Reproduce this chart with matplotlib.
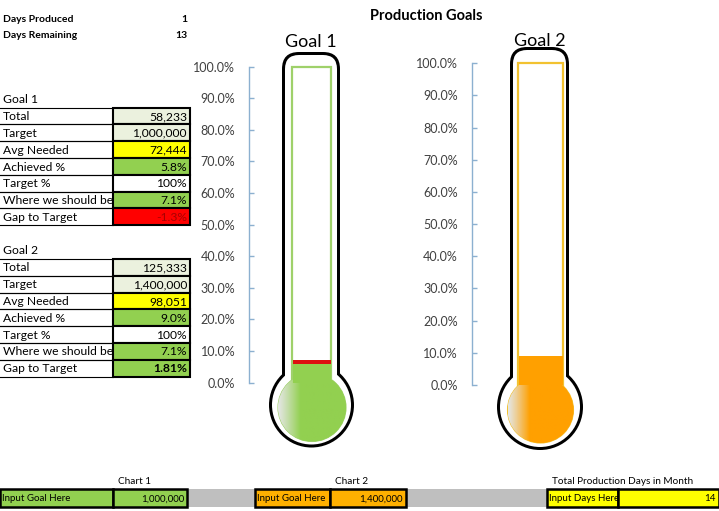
import numpy as np
import matplotlib
matplotlib.use("Agg")
import matplotlib.pyplot as plt
from matplotlib.patches import Rectangle, Circle, FancyBboxPatch
from matplotlib.ticker import PercentFormatter
from matplotlib.colors import to_rgb

plt.rcParams['font.family'] = ['Lato', 'DejaVu Sans']

# ---- data ----
days_labels = ["Days Produced", "Days Remaining"]
days_values = [1, 13]

row_labels = ["Total", "Target", "Avg Needed", "Achieved %", "Target %",
              "Where we should be", "Gap to Target"]
goal1_values = ["58,233", "1,000,000", "72,444", "5.8%", "100%", "7.1%", "-1.3%"]
goal2_values = ["125,333", "1,400,000", "98,051", "9.0%", "100%", "7.1%", "1.81%"]

goal_names = ["Goal 1", "Goal 2"]
achieved = [0.058, 0.090]
gap = [-0.013, 0.0181]
goal_targets = [1000000, 1400000]
total_days = 14
scale_ticks = np.arange(0, 1.001, 0.1)

# ---- styling ----
GREEN = "#92d050"
LIGHT = "#ebf1de"
YELLOW = "#ffff00"
ORANGE = "#ffa000"
RED = "#ff0000"
cell_colors = [LIGHT, LIGHT, YELLOW, GREEN, "white", GREEN, None]

W, H = 719, 511
fig = plt.figure(figsize=(W / 100, H / 100), dpi=100)
bg = fig.add_axes([0, 0, 1, 1])
bg.set_xlim(0, W)
bg.set_ylim(H, 0)
bg.axis('off')

# ---- top left ----
for i, (lab, v) in enumerate(zip(days_labels, days_values)):
    y = 19 + i * 16.5
    bg.text(3, y, lab, fontsize=7.5, fontweight='bold', va='center')
    bg.text(187, y, str(v), fontsize=7.5, fontweight='bold', va='center', ha='right')

# ---- tables ----
RH = 16.8
FS = 8.7
def draw_table(top, header, values, g):
    bg.text(3, top - 8, header, fontsize=FS, va='center')
    for i, (lab, val) in enumerate(zip(row_labels, values)):
        y0 = top + i * RH
        bg.plot([0, 113], [y0, y0], color='black', lw=0.8)
        bg.plot([0, 113], [y0 + RH, y0 + RH], color='black', lw=0.8)
        fc = cell_colors[i]
        tcol = 'black'
        weight = 'normal'
        if fc is None:
            fc = RED if g < 0 else GREEN
            tcol = '#a80000' if g < 0 else 'black'
            weight = 'normal' if g < 0 else 'bold'
        bg.add_patch(Rectangle((113, y0), 77, RH, fc=fc, ec='black', lw=1.5))
        t = bg.text(3, y0 + RH / 2 + 0.5, lab, fontsize=FS, va='center')
        t.set_clip_path(Rectangle((0, y0), 112, RH, transform=bg.transData))
        bg.text(187, y0 + RH / 2 + 0.5, val, fontsize=FS, va='center', ha='right',
                color=tcol, fontweight=weight)

draw_table(107.7, "Goal 1", goal1_values, gap[0])
draw_table(259.0, "Goal 2", goal2_values, gap[1])

# ---- title ----
bg.text(426, 16, "Production Goals", fontsize=10.5, fontweight='bold', ha='center', va='center')

# ---- thermometers ----
def hgrad(c0, c1, n=64, edge=0.38, p=1.4):
    t = np.linspace(0, 1, n)
    m = np.clip(t / edge, 0, 1) ** p
    a, b = np.array(to_rgb(c0)), np.array(to_rgb(c1))
    return (a[None, :] * (1 - m[:, None]) + b[None, :] * m[:, None])[None, :, :]

therms = [
    dict(spine=249.0, y100=66.7, y0=382.7, tx=292.0, tw=39.0, ocx=311.0, ohw=29.0, otop=52.0,
         bc=(311.5, 405.0), br=42.5, ic=(312.0, 407.5), ir=34.0,
         fill=GREEN, frame="#9fd16a", title_y=42.0),
    dict(spine=471.7, y100=63.3, y0=385.0, tx=518.0, tw=45.0, ocx=539.5, ohw=29.5, otop=47.0,
         bc=(540.0, 407.0), br=43.0, ic=(540.5, 410.0), ir=33.0,
         fill=ORANGE, frame="#f2c230", title_y=41.0),
]

for k, th in enumerate(therms):
    cx = th['ocx']
    # body outline: black then white inset
    for inset, col in [(0, 'black'), (3, 'white')]:
        bg.add_patch(FancyBboxPatch((cx - th['ohw'] + inset, th['otop'] + inset),
                                    2 * (th['ohw'] - inset), th['bc'][1] - th['otop'] - inset,
                                    boxstyle="round,pad=0,rounding_size=%g" % (17 - inset),
                                    fc=col, ec='none', zorder=1))
        bg.add_patch(Circle(th['bc'], th['br'] - inset, fc=col, ec='none', zorder=1))
    # tube interior with faint shading
    tube = Rectangle((th['tx'], th['y100']), th['tw'], th['y0'] - th['y100'] + 2,
                     fc='white', ec=th['frame'], lw=1.6, zorder=2.2)
    bg.add_patch(tube)
    side = hgrad("#ecebf1", "white", 32, 0.45, 1.0)
    shade = np.concatenate([side, side[:, ::-1, :]], axis=1)
    bg.imshow(shade, extent=(th['tx'] + 0.8, th['tx'] + th['tw'] - 0.8, th['y0'] + 2, th['y100'] + 0.8),
              aspect='auto', zorder=2.1, interpolation='bilinear')
    # bulb
    bulb = Circle(th['ic'], th['ir'], fc=th['fill'], ec=th['frame'], lw=0.8, zorder=3)
    bg.add_patch(bulb)
    gi = bg.imshow(hgrad("#e4e6e2", th['fill'], 80, 0.33, 1.1),
                   extent=(th['ic'][0] - th['ir'], th['ic'][0] + th['ir'],
                           th['ic'][1] + th['ir'], th['ic'][1] - th['ir']),
                   aspect='auto', zorder=3.1, interpolation='bilinear')
    gi.set_clip_path(bulb)
    bg.text(cx, th['title_y'], goal_names[k], fontsize=13, ha='center', va='center')

    # scale axis + fill bar
    ax = fig.add_axes([th['spine'] / W, (H - th['y0']) / H,
                       (th['tx'] + th['tw'] + 2 - th['spine']) / W, (th['y0'] - th['y100']) / H])
    ax.set_xlim(th['spine'], th['tx'] + th['tw'] + 2)
    ax.set_ylim(0, 1)
    ax.patch.set_alpha(0)
    for s in ['top', 'right', 'bottom']:
        ax.spines[s].set_visible(False)
    ax.spines['left'].set_color('#8cb0d0')
    ax.spines['left'].set_linewidth(1.0)
    ax.set_xticks([])
    ax.set_yticks(scale_ticks)
    ax.yaxis.set_major_formatter(PercentFormatter(1.0, decimals=1))
    ax.tick_params(axis='y', direction='in', length=3.5, width=1.0, color='#8cb0d0',
                   labelsize=9, labelcolor='#404040', pad=10)
    bx = th['tx'] + th['tw'] / 2
    ax.bar(bx, achieved[k], width=th['tw'] - 1, bottom=0, color=th['fill'], clip_on=False)
    if gap[k] < 0:
        ax.bar(bx, -gap[k], width=th['tw'] - 1, bottom=achieved[k], color='#dd1010', clip_on=False)

# ---- bottom input row ----
y_top, y_bot = 489.0, 507.5
bg.add_patch(Rectangle((0, y_top), W, y_bot - y_top, fc='#bfbfbf', ec='none'))
bottom_cells = [
    (0, 113, "Input Goal Here", GREEN, 'left'),
    (113, 187, "{:,}".format(goal_targets[0]), GREEN, 'right'),
    (255, 330, "Input Goal Here", "#ffb000", 'left'),
    (330, 406, "{:,}".format(goal_targets[1]), "#ffb000", 'right'),
    (547, 618, "Input Days Here", YELLOW, 'left'),
    (618, 719, str(total_days), YELLOW, 'right'),
]
for x0, x1, txt, fc, al in bottom_cells:
    bg.add_patch(Rectangle((x0, y_top), x1 - x0, y_bot - y_top, fc=fc, ec='black', lw=1.8))
    tx = x0 + 2 if al == 'left' else x1 - 3
    bg.text(tx, (y_top + y_bot) / 2 + 0.5, txt, fontsize=7.0, ha=al, va='center')

for x, txt in [(134, "Chart 1"), (352, "Chart 2"), (623, "Total Production Days in Month")]:
    bg.text(x, 482, txt, fontsize=7.2, ha='center', va='center')

fig.savefig("out.png", dpi=100)
